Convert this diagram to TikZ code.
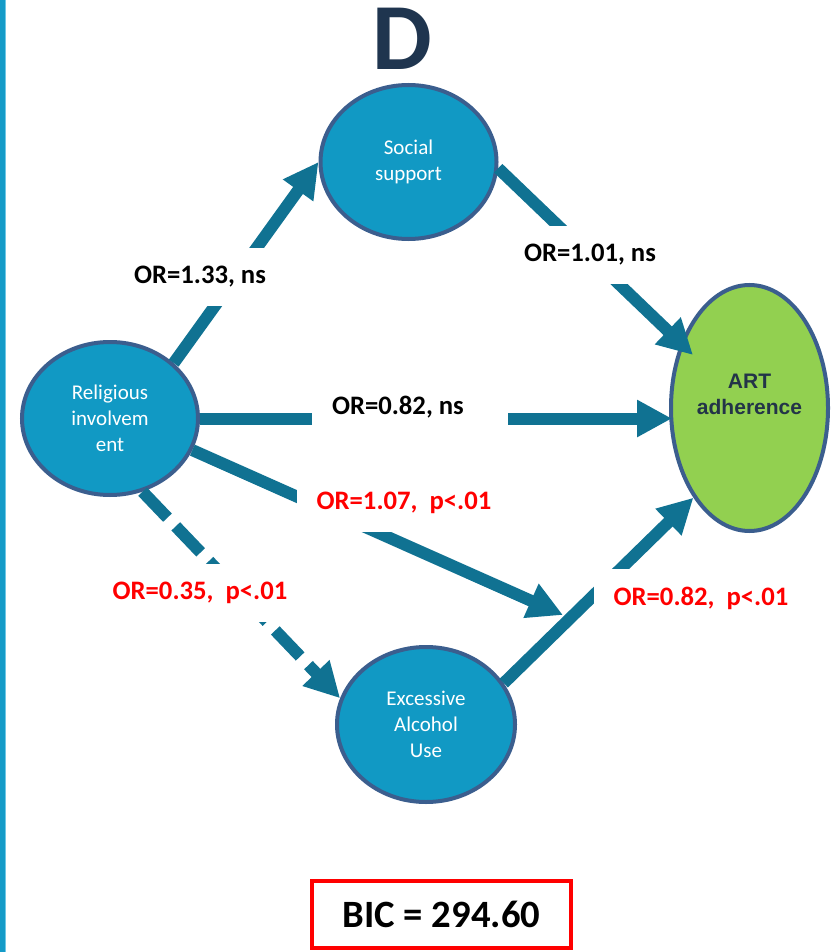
\documentclass[tikz,border=0pt]{standalone}
\usepackage{fontspec}
\setmainfont{Carlito}
\newfontfamily\arialfont{Liberation Sans}
\usetikzlibrary{arrows.meta,shapes.geometric,calc}
\definecolor{nodefill}{RGB}{17,153,196}
\definecolor{nodeline}{RGB}{59,94,142}
\definecolor{arrowcol}{RGB}{16,114,146}
\definecolor{artfill}{RGB}{146,208,80}
\definecolor{titlecol}{RGB}{31,53,79}
\definecolor{arttextcol}{RGB}{35,52,72}
\definecolor{barcol}{RGB}{20,155,200}
\definecolor{barlight}{RGB}{110,200,230}
\begin{document}
\begin{tikzpicture}[x=0.75pt,y=-0.75pt,
  var/.style={ellipse, draw=nodeline, line width=3pt, fill=nodefill, inner sep=0pt,
    text=white, align=center, font=\fontsize{15.75}{19.5}\selectfont},
  conn/.style={draw=arrowcol, line width=9pt, -{Triangle[length=26.25pt,width=26.25pt]}},
  dashconn/.style={conn, dash pattern=on 27pt off 9pt},
  orlab/.style={fill=white, inner xsep=15pt, inner ysep=0pt, minimum height=43.5pt,
    font=\fontsize{20}{24}\selectfont\bfseries},
]
\useasboundingbox (0,0) rectangle (832,952);
\fill[white] (0,0) rectangle (832,952);
\fill[barcol] (0,0) rectangle (4.5,952);
\fill[barlight] (4.5,0) rectangle (5.5,952);

% title
\node[font=\fontsize{71}{80}\selectfont\bfseries, text=titlecol, inner sep=0pt] (title) at (402,39) {D};

% variables
\node[var, minimum width=132pt, minimum height=115.5pt] (soc) at (408.5,162) {\raisebox{-2pt}{\begin{tabular}{@{}c@{}}Social\\support\end{tabular}}};
\node[var, minimum width=132pt, minimum height=114.75pt] (rel) at (110,418.5) {Religious\\involvem\\ent};
\node[var, minimum width=133.5pt, minimum height=116.25pt] (exc) at (426,724.5) {Excessive\\Alcohol\\Use};
\node[var, fill=artfill, minimum width=117.75pt, minimum height=184.5pt] (art) at (749.5,408) {};
\node[font=\arialfont\bfseries\fontsize{15.75}{19.5}\selectfont, text=arttextcol, align=center, inner sep=0pt] (arttext) at (749.5,394) {ART\\adherence};

% connectors
\coordinate (hit) at (563,615);
\draw[conn] (rel.41) -- (soc.180);
\draw[conn] (soc.-4) -- ([shift={(-56.5,-53)}]art.center);
\draw[conn] (rel.east) -- ($(rel.east -| art.west)+(3,0)$);
\draw[conn] (rel.-21) -- (hit);
\draw[conn] (exc.28) -- (art.238);
\draw[dashconn] (rel.-66) -- (exc.163);

% labels
\node[orlab] (l1) at (200,277) {OR=1.33, ns};
\node[orlab] (l2) at (590,255) {OR=1.01, ns};
\node[orlab] (l3) at (410,407) {\makebox[117pt][l]{OR=0.82, ns}};
\node[orlab, text=red] (l4) at (404,503) {OR=1.07,\ \ p<.01};
\node[orlab, text=red] (l5) at (200,593) {OR=0.35,\ \ p<.01};
\node[orlab, text=red] (l6) at (701,598) {OR=0.82,\ \ p<.01};

% BIC box
\node[draw=red, line width=3pt, minimum width=194.25pt, minimum height=50.25pt, inner sep=0pt,
  font=\fontsize{29}{34}\selectfont\bfseries] (bic) at (441.5,914.5) {BIC = 294.60};
\end{tikzpicture}
\end{document}
